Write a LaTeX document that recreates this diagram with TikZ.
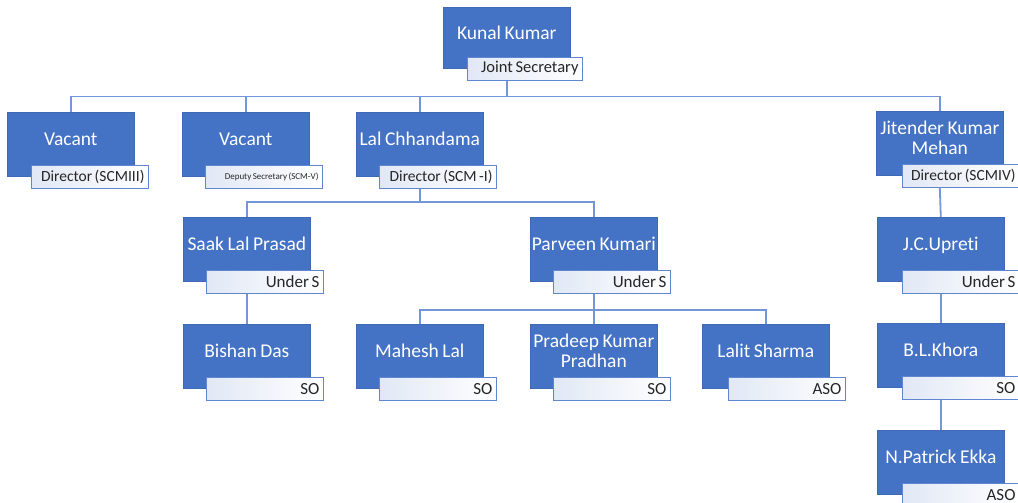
\documentclass[tikz,border=0pt]{standalone}
\usepackage{fontspec}
\setmainfont{Carlito}[Ligatures={NoCommon}, WordSpace=0.8]
\definecolor{boxblue}{HTML}{4472C4}
\definecolor{linkblue}{HTML}{7396D8}
\definecolor{tagline}{HTML}{5F86CF}
\definecolor{tagtint}{HTML}{E1E8F5}
\definecolor{tagtext}{HTML}{262626}
% narrow word gap used inside the post tags
\newcommand{\tagsp}{\hspace{0.16em}}

\begin{document}
\begin{tikzpicture}[x=1pt,y=-1pt,
  person/.style={rectangle, fill=boxblue, draw=boxblue!92!black, line width=0.6pt,
    anchor=north west, minimum width=127pt, minimum height=64pt,
    inner xsep=1pt, inner ysep=0pt, text=white, align=center,
    font=\fontsize{19.5}{20.5}\selectfont, text depth=11pt},
  post/.style={rectangle, draw=tagline, line width=1pt,
    left color=tagtint, middle color=white, right color=white,
    anchor=north west, minimum height=23pt, text width=109pt,
    inner xsep=4pt, inner ysep=0pt, text=tagtext, align=right,
    font=\fontsize{17}{17}\selectfont},
  directorpost/.style={post, font=\fontsize{15.5}{15.5}\selectfont},
  link/.style={draw=linkblue, line width=1.8pt}
]
\useasboundingbox[fill=white] (0,0) rectangle (1018,503);

% ---- people ----
\node[person, minimum height=61pt] (kk) at (443,7) {Kunal Kumar};
\node[person] (v1)  at (7,112)   {Vacant};
\node[person] (v2)  at (182,112) {Vacant};
\node[person] (lc)  at (356,112) {Lal Chhandama};
\node[person] (jk)  at (876,111) {Jitender Kumar\\Mehan};
\node[person] (slp) at (183,217) {Saak Lal Prasad};
\node[person] (pk)  at (530,217) {Parveen Kumari};
\node[person] (bd)  at (183,324) {Bishan Das};
\node[person] (ml)  at (356,324) {Mahesh Lal};
\node[person] (pkp) at (530,324) {Pradeep Kumar\\Pradhan};
\node[person] (ls)  at (702,324) {Lalit Sharma};
\node[person] (jcu) at (877,217) {J.C.Upreti};
\node[person] (blk) at (877,323) {B.L.Khora};
\node[person] (npe) at (877,430) {N.Patrick Ekka};

% ---- posts ----
\node[post, text width=107pt, font=\fontsize{16.5}{16.5}\selectfont] (kkP) at ([xshift=24pt,yshift=12pt]kk.south west) {Joint\tagsp Secretary};
\node[directorpost] (v1P)  at ([xshift=24pt,yshift=12pt]v1.south west)  {Director\tagsp(SCMIII)};
\node[post, font=\fontsize{9}{9}\selectfont] (v2P) at ([xshift=23pt,yshift=12pt]v2.south west) {Deputy\tagsp Secretary\tagsp(SCM-V)};
\node[directorpost] (lcP)  at ([xshift=23pt,yshift=12pt]lc.south west)  {Director\tagsp(SCM\tagsp-I)};
\node[directorpost] (jkP)  at ([xshift=26pt,yshift=12pt]jk.south west)  {Director\tagsp(SCMIV)};
\node[post] (slpP) at ([xshift=23pt,yshift=12pt]slp.south west) {Under\tagsp S};
\node[post] (pkP)  at ([xshift=23pt,yshift=12pt]pk.south west)  {Under\tagsp S};
\node[post] (bdP)  at ([xshift=23pt,yshift=12pt]bd.south west)  {SO};
\node[post] (mlP)  at ([xshift=23pt,yshift=12pt]ml.south west)  {SO};
\node[post] (pkpP) at ([xshift=23pt,yshift=12pt]pkp.south west) {SO};
\node[post] (lsP)  at ([xshift=26pt,yshift=12pt]ls.south west)  {ASO};
\node[post] (jcuP) at ([xshift=25pt,yshift=12pt]jcu.south west) {Under\tagsp S};
\node[post] (blkP) at ([xshift=25pt,yshift=12pt]blk.south west) {SO};
\node[post] (npeP) at ([xshift=25pt,yshift=12pt]npe.south west) {ASO};

% ---- reporting lines ----
\foreach \c in {v1,v2,lc,jk}
  \draw[link] (kk.south |- kkP.south) -- ++(0,16) -| (\c.north);
\foreach \c in {slp,pk}
  \draw[link] (lc.south |- lcP.south) -- ++(0,13) -| (\c.north);
\foreach \c in {ml,pkp,ls}
  \draw[link] (pk.south |- pkP.south) -- ++(0,16) -| (\c.north);
\draw[link] (slp.south |- slpP.south) -- (bd.north);
\draw[link] (jk.south |- jkP.south) -- (jcu.north);
\draw[link] (jcu.south |- jcuP.south) -- (blk.north);
\draw[link] (blk.south |- blkP.south) -- (npe.north);
\end{tikzpicture}
\end{document}
